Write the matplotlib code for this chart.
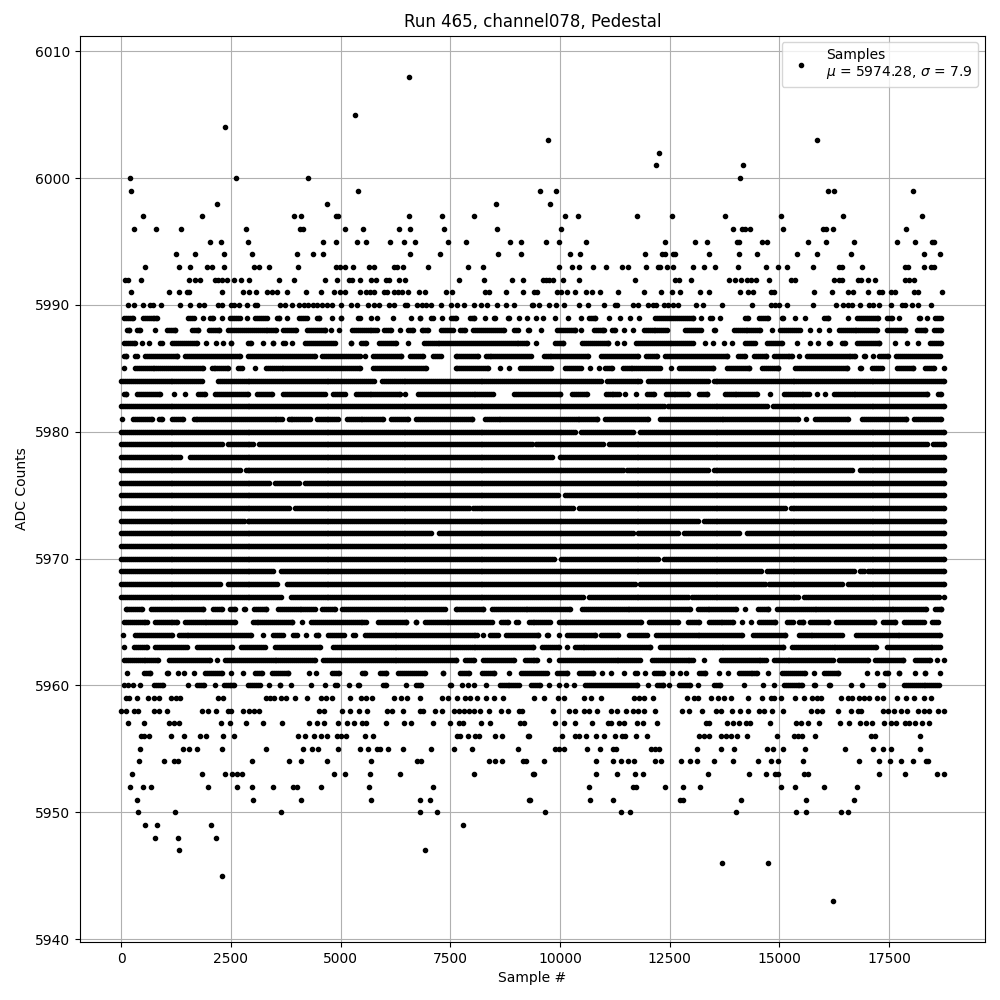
import numpy as np
import matplotlib
matplotlib.use("Agg")
import matplotlib.pyplot as plt

title = "Run 465, channel078, Pedestal"
x_label = "Sample #"
y_label = "ADC Counts"
legend_label = "Samples\n$\\mu$ = 5974.28, $\\sigma$ = 7.9"
first_sample = 0
last_sample = 18749
coverage_step = 45   # spacing used where a row is read as an unbroken run of samples
dot_allowance = 60   # runs were read from dot edge to dot edge; this is the dot radius in samples

# ---- isolated samples, read one by one: ADC level -> sample numbers
isolated = {
6008: [6560],
6005: [5336],
6004: [2357],
6003: [9720, 15850],
6002: [12250],
6001: [12181, 14165],
6000: [197, 2608, 4268, 14096],
5999: [220, 5405, 9536, 9901, 16100, 16240, 18035],
5998: [2175, 4700, 8543, 9764],
5997: [493, 1834, 3949, 4108, 4889, 4950, 6564, 7315, 8043, 10106, 10403, 11748, 12546, 13754, 15031, 16445, 18246],
5996: [288, 788, 1357, 2835, 4086, 4154, 5109, 5518, 6337, 6587, 7360, 8565, 10015, 13937, 14142, 14210, 14324, 15077, 15989, 16057, 16217, 17881],
5995: [2016, 2266, 2880, 4609, 4904, 5382, 5586, 6132, 6451, 6701, 7451, 7860, 8861, 9111, 9673, 9970, 10585, 12386, 13070, 13344, 14028, 14074, 14598, 14712, 15647, 16057, 16696, 17676, 18086, 18474, 18520],
5994: [1243, 1675, 2335, 2971, 4017, 4381, 4609, 6587, 7269, 8588, 9111, 10220, 10448, 11930, 12318, 12386, 12569, 12614, 13390, 14074, 14484, 15396, 15852, 16627, 18292, 18656],
5993: [538, 1311, 1561, 1948, 2062, 2335, 3017, 3153, 3381, 4040, 4904, 4995, 5109, 5291, 5655, 5768, 6223, 6291, 6428, 6996, 7906, 8247, 9970, 10266, 10426, 10745, 11041, 11406, 11543, 11953, 12227, 12272, 12432, 12569, 13025, 13276, 13526, 14051, 14689, 14963, 15168, 15761, 16354, 16422, 16878, 17858, 17927, 18292, 18451, 18520],
5992: [83, 152, 447, 1539, 1675, 1789, 2130, 2198, 2289, 2403, 2562, 2721, 2903, 3608, 3949, 4654, 4927, 5200, 5268, 5450, 5700, 5814, 6041, 6110, 6337, 6473, 7701, 8270, 8907, 9157, 9605, 9681, 9757, 9833, 10061, 10426, 11702, 12630, 12721, 12979, 13846, 13982, 14119, 14256, 14347, 14461, 14758, 15259, 15350, 16240, 16354, 16422, 16787, 16855, 17015, 17174, 17858, 17950, 18064],
5991: [220, 1084, 1311, 1493, 1554, 2289, 2767, 2903, 3062, 3335, 3449, 3563, 3790, 4222, 4563, 4859, 4995, 5109, 5450, 5586, 5677, 5768, 5996, 6064, 6223, 6314, 6405, 6542, 6792, 6928, 7406, 7542, 8293, 8383, 8770, 9157, 9415, 9483, 9939, 10030, 10152, 10334, 10585, 10722, 10904, 11315, 11908, 12295, 12546, 12728, 13184, 13390, 14096, 14279, 14393, 14803, 14872, 15784, 16194, 16559, 16673, 17015, 17266, 17334, 17539, 17630, 18064, 18155, 18702],
5990: [152, 288, 493, 667, 735, 902, 1334, 1561, 1766, 1880, 2198, 2289, 2494, 2562, 2676, 2858, 3040, 3085, 3631, 3745, 3904, 4063, 4177, 4268, 4381, 4472, 4586, 4700, 4813, 5010, 5245, 5382, 5632, 5768, 5882, 6110, 6223, 6473, 6519, 6746, 6860, 6951, 7065, 7292, 7519, 7656, 7815, 8043, 8202, 8338, 8573, 8770, 8952, 9361, 9392, 9529, 9757, 9909, 10099, 10426, 10631, 11000, 11246, 11292, 11657, 11771, 11999, 12113, 12189, 12364, 12455, 12569, 12683, 13101, 13253, 13686, 14370, 14803, 14894, 14986, 15168, 15776, 16285, 16445, 16559, 16650, 16832, 17038, 17129, 17266, 17539, 17790, 17858, 18018, 18155, 18451],
5959: [100, 180, 356, 606, 758, 872, 1137, 1251, 1342, 2198, 2312, 3297, 3388, 3487, 3638, 3752, 3964, 4245, 4548, 4662, 4813, 5215, 5458, 5571, 5723, 6216, 6367, 6519, 6815, 7315, 7451, 7656, 7830, 7959, 8111, 8315, 8497, 8694, 9400, 9643, 9947, 10099, 10555, 10707, 10935, 11695, 11809, 11923, 12128, 12888, 13063, 13139, 13443, 13595, 13747, 13899, 14279, 14598, 14811, 14887, 15039, 15366, 15571, 15746, 15852, 15951, 16407, 16559, 16658, 16825, 16939, 17038, 17228, 17357, 17676, 17889, 18071, 18307, 18459],
5958: [0, 114, 303, 379, 758, 872, 1038, 1834, 1971, 2160, 2426, 2502, 2767, 2918, 3032, 3146, 4510, 4624, 5040, 5207, 5420, 5610, 6064, 6178, 6427, 6815, 6868, 7163, 7315, 7580, 7694, 7807, 7921, 8035, 8187, 8391, 8660, 8827, 9058, 9134, 9848, 10198, 10350, 10555, 10669, 10844, 11163, 11292, 11505, 11657, 11771, 11923, 12158, 12782, 12949, 13238, 13557, 13671, 13914, 14104, 14279, 14530, 14659, 14834, 15092, 15723, 15852, 15974, 16331, 16627, 16787, 16863, 17357, 17471, 17623, 17775, 17904, 18155, 18307, 18421, 18611, 18748],
5957: [152, 515, 1099, 1213, 1311, 2266, 2479, 2835, 3244, 3676, 4290, 4472, 4631, 4950, 5154, 5313, 5495, 5586, 6041, 6450, 6610, 7110, 7497, 7694, 7792, 8209, 8414, 9096, 9172, 9878, 10084, 10350, 10730, 11087, 11163, 11338, 11467, 11748, 11885, 12204, 13329, 13405, 13800, 13937, 14074, 14241, 14332, 14780, 15381, 15495, 15647, 15898, 16376, 16582, 16848, 16977, 17106, 17395, 17547, 17661, 17866, 17965, 18094, 18254, 18406],
5956: [455, 530, 637, 1129, 1425, 1789, 1933, 2312, 2562, 4037, 4188, 4400, 4560, 4700, 4927, 5003, 5133, 5564, 5746, 7656, 7732, 7906, 8073, 8149, 8513, 8680, 9270, 9300, 10038, 10334, 10426, 10585, 10828, 11000, 11246, 11406, 11490, 11725, 11984, 13162, 13276, 13405, 13671, 13785, 13899, 14028, 14256, 14940, 15328, 15419, 15518, 15806, 17083, 17182, 18200],
5955: [425, 1402, 1539, 1721, 2289, 3312, 4154, 4359, 4495, 4950, 5450, 5632, 5837, 5890, 6087, 6428, 7065, 7588, 7997, 9043, 9894, 9985, 10099, 10608, 10904, 11201, 11277, 12075, 12174, 12250, 13116, 13663, 13960, 14712, 14849, 15077, 15586, 16490, 17129, 17357, 17547, 18200],
5954: [402, 970, 1213, 1289, 2971, 3835, 4108, 4700, 5700, 6746, 6837, 8383, 8527, 8679, 9157, 9225, 9628, 10813, 11201, 11391, 11543, 11680, 12158, 12295, 12751, 12956, 13116, 13504, 13937, 14507, 14811, 14963, 15533, 16810, 17266, 17516, 17767, 18041, 18345, 18390],
5953: [243, 1834, 2357, 2516, 2630, 2752, 4859, 5109, 5677, 6360, 8042, 9384, 9400, 10813, 11292, 11702, 11885, 13367, 14302, 14689, 14902, 14963, 15571, 15647, 17266, 17858, 18588, 18748],
5952: [197, 493, 675, 1971, 2630, 2971, 3472, 3926, 4017, 4563, 5655, 7110, 10654, 11657, 11733, 12386, 12797, 13184, 15031, 15350, 16012, 16764],
5951: [356, 2994, 4108, 5700, 6815, 7042, 9293, 9324, 10676, 11201, 12736, 12797, 14119, 15601, 16696],
5950: [379, 1220, 3654, 6815, 7201, 9650, 11383, 11588, 14005, 15373, 15601, 16399, 16559],
5949: [538, 811, 2039, 7792],
5948: [766, 1289, 2153],
5947: [1311, 6928],
5946: [13686, 14735],
5945: [2289],
5943: [16217],
}

# ---- broken rows, read as runs of samples: (first, last) or a lone sample
runs_5989 = [(0,340),(430,870),(1465,1720),(1820,1895),(1970,2160),(2260,2350),(2425,2765),(2805,2920),(2995,3375),(3490,3660),3790,(3995,4285),(4395,4570),(4740,4850),(4950,5080),(5345,5510),5685,5835,(6140,6240),(6555,6650),(6745,6875),(7000,7165),7315,(7465,7695),(7885,8110),8300,(8435,8575),(8755,8905),(9020,9095),9250,9453,9620,(9833,9947),10175,10480,(10593,10859),11125,11376,11604,11794,(12113,13101),13215,(13367,13519),13656,(14165,14355),(14469,14811),(15001,15153),15366,(15533,15647),(15951,16179),16559,(16711,17319),(17395,17623),17737,(18117,18254),18360,(18497,18748)]
runs_5988 = [(75,250),(305,480),780,(985,1290),(1555,1820),(1935,2300),(2375,3600),(3640,4045),(4170,4700),4775,4965,(5195,5880),(5940,6215),6365,(6480,6710),(6785,7050),(7240,7620),(7660,7885),(7960,8790),(8900,9095),(9210,9360),9567,(9870,10400),(10440,10517),(10707,11064),(11125,11315),11452,11657,(11847,12493),(12797,13276),(13443,13595),(13899,14621),14834,(14963,15533),15700,15898,(16065,16179),(16293,17280),(17395,17927),(18079,18383),(18459,18748)]
runs_5987 = [(0,380),470,630,(835,985),(1100,1780),1930,2160,2310,(2450,2575),(2840,3030),3235,(3390,3525),(3640,3790),3890,(4130,4925),(5175,5305),(5405,5645),(5810,6330),(6480,6595),(6835,9300),9450,(9833,10137),(10441,11163),11292,11467,(11672,13086),13306,13481,(13671,13785),13914,(14165,14507),(14659,15115),15396,(15647,15761),15875,(16065,16217),(16369,16559),(16711,17341),(17585,17699),(17851,17965),18155,(18383,18748)]
runs_5986 = [(0,175),(265,430),(490,1340),(1400,2765),(2840,4470),(4525,5495),5555,(5685,6440),(6530,6950),(7050,7340),(7560,8185),(8245,9390),(9567,10707),(10882,11832),(11908,12280),(12341,13861),(13990,14279),(14355,14750),(14811,15358),15457,(15571,16787),(16878,17015),17129,(17220,17532),(17600,18710)]
runs_5985 = [75,(250,1920),(2000,2500),(2600,2805),3045,(3235,5495),(5685,7010),(7560,8415),8640,8830,(9040,9848),(10061,10540),10692,10882,(10973,11254),(11368,12341),12523,(12660,13557),(13747,14370),(14545,15039),(15305,16597),(16787,16924),(17053,17395),(17623,18117),(18269,18588),18748]
runs_5983 = [(0,175),(300,945),(1175,1215),(1400,1510),(1690,1970),(2085,2955),(3030,3490),(3640,4700),(4775,5155),(5285,6405),6480,(6710,8530),(8900,10061),(10213,10676),(10980,11398),11490,11740,(11930,12211),(12348,12971),(13108,13412),(13693,14545),14788,(15040,15728),15853,16030,(16180,18420),(18550,18748)]
runs_5981 = [15,(205,760),(795,985),(1100,1480),(1590,3715),(3755,4360),(4395,4998),(5080,6025),(6100,6595),(6670,8060),(8225,10912),(10972,12060),(12227,15495),(15570,15647),(15760,16635),(16825,17943),(18005,18749)]
runs_5966 = [(40,530),(630,1930),(2030,2350),(2425,2650),(2730,2880),(2960,3370),(3510,4470),(4525,4925),(4980,7430),(7560,8315),(8390,10290),(10445,13025),(13078,14074),(14165,14285),(14454,14812),(14886,18405),(18480,18745)]
runs_5965 = [(0,645),(705,1330),(1390,2650),(2935,3965),4115,(4270,5645),(5800,6560),(6650,6790),(6860,8510),(8600,8870),(8930,9095),(9225,9833),(9909,11907),(11976,12759),(12850,13238),(13329,13997),(14089,14203),14355,(14484,14971),(15115,15365),(15396,15608),(15647,16179),(16232,17219),(17296,17699),(17775,18345),(18421,18665)]
runs_5964 = [(0,100),(265,1210),(1250,3030),(3185,3300),(3410,3750),(3865,4070),4210,(4375,4550),(4650,5130),(5230,5380),(5495,8160),8250,(8340,8640),(8720,9567),(9643,9795),9985,(10099,10859),(10874,11391),(11520,12037),(12130,14203),(14341,15190),(15380,16483),(16688,18730)]
runs_5963 = [60,(230,645),(720,1555),(1670,2580),(2675,3335),(3450,4585),(4775,9453),(9530,10045),10152,(10274,12113),(12227,15153),(15229,17258),(17395,18730)]
runs_5962 = [(0,910),(1040,2085),2185,(2310,4470),(4550,7695),(7770,8110),(8185,9020),(9135,9529),9742,(9924,11885),(12037,13101),13276,(13610,14758),(14811,16278),(16308,17091),(17129,17889),(18025,18497),18588,18748]
runs_5961 = [130,(455,720),(985,1135),1290,1440,(1595,1705),(1860,2350),2515,(2730,2845),(2995,3260),(3375,3865),4285,4450,(4740,5020),(5420,5610),(5830,6100),(6255,6975),(7280,7405),(7655,7995),(8165,8565),8845,(9060,9757),(9870,10228),(10380,10821),(10912,11011),11163,11452,(11657,11809),11938,(12075,12417),12554,12736,12873,(13101,13367),13618,13823,(14013,14545),14735,(15001,15647),15799,(15951,16407),16992,17220,(17357,17547),(17661,17797),18094,(18254,18383),18664]
runs_5960 = [75,150,280,430,(680,1025),1515,(1670,1950),2135,(2275,2630),(2840,3220),3380,(3560,3690),3865,4335,(4585,4700),(4815,4980),5190,(5345,5480),(5910,6100),(6445,6560),(6670,6900),(7430,7580),7770,7905,8040,8315,(8565,9135),(9290,9605),9757,9970,(10099,10198),10312,(10517,11809),11999,(12151,12417),12478,(12645,13025),13139,(13443,13709),14188,(14583,14682),14887,(15039,15571),(15723,15875),(16065,16217),16635,16878,(17239,17429),(17775,18687)]

# ---- nearly unbroken rows: only the blank stretches are listed
gaps_5984 = [(1870,2180),(5760,5910),(10960,11070),(11850,11980),(13400,13500)]
gaps_5982 = [(12380,12440),(14750,14830)]
gaps_5980 = [(10388,10456),(11695,11794)]
gaps_5979 = [(2327,2426),(3024,3123),(9380,9420),(10988,11087),(18383,18459)]
gaps_5978 = [(1364,1463),(1463,1539),(9848,9947)]
gaps_5977 = [(2729,2805),(11444,11520),(13382,13458),(16673,16787)]
gaps_5976 = [(3411,3487),(4070,4146)]
gaps_5975 = [(9947,10114)]
gaps_5974 = [(3851,3926),(7921,7997),(10342,10418),(15138,15214)]
gaps_5973 = [(2805,2865),(13162,13238)]
gaps_5972 = [(7088,7201),(11695,11771),(12721,12797),(14104,14256)]
gaps_5971 = []
gaps_5970 = [(9894,10000),(12265,12364)]
gaps_5969 = [(3502,3623),(14606,14682),(16734,16825),(16924,16992)]
gaps_5968 = [(2251,2388),(3578,3752),(11733,11824),(14682,14758),(16460,16536)]
gaps_5967 = [(3661,3828),(4321,4359),(10555,10631),(12918,12994),(15472,15556),(18634,18732)]

run_rows = {5989: runs_5989, 5988: runs_5988, 5987: runs_5987, 5986: runs_5986,
            5985: runs_5985, 5983: runs_5983, 5981: runs_5981, 5966: runs_5966,
            5965: runs_5965, 5964: runs_5964, 5963: runs_5963, 5962: runs_5962,
            5961: runs_5961, 5960: runs_5960}
gap_rows = {5984: gaps_5984, 5982: gaps_5982, 5980: gaps_5980, 5979: gaps_5979,
            5978: gaps_5978, 5977: gaps_5977, 5976: gaps_5976, 5975: gaps_5975,
            5974: gaps_5974, 5973: gaps_5973, 5972: gaps_5972, 5971: gaps_5971,
            5970: gaps_5970, 5969: gaps_5969, 5968: gaps_5968, 5967: gaps_5967}


def from_runs(runs):
    out = []
    for r in runs:
        if isinstance(r, tuple):
            a = r[0] + dot_allowance
            b = r[1] - dot_allowance
            if b <= a:
                out.append(np.array([(r[0] + r[1]) // 2]))
            else:
                out.append(np.arange(a, b, coverage_step))
                out.append(np.array([b]))
        else:
            out.append(np.array([r]))
    return np.concatenate(out)


def from_gaps(gaps):
    s = np.arange(first_sample, last_sample + 1, coverage_step)
    s = np.append(s, last_sample)
    for a, b in gaps:
        s = s[(s <= a) | (s >= b)]
    return s


xs, ys = [], []
for level, samples in isolated.items():
    xs.append(np.array(samples)); ys.append(np.full(len(samples), level))
for level, runs in run_rows.items():
    s = from_runs(runs); xs.append(s); ys.append(np.full(len(s), level))
for level, gaps in gap_rows.items():
    s = from_gaps(gaps); xs.append(s); ys.append(np.full(len(s), level))
x = np.concatenate(xs)
y = np.concatenate(ys)

fig, ax = plt.subplots(figsize=(10, 10), dpi=100)
ax.plot(x, y, "k.", label=legend_label)
ax.set_title(title)
ax.set_xlabel(x_label)
ax.set_ylabel(y_label)
ax.ticklabel_format(useOffset=False, style="plain", axis="y")
ax.grid(True)
ax.legend(loc="upper right")
fig.subplots_adjust(left=0.0800, right=0.9850, top=0.9645, bottom=0.0578)
fig.savefig("out.png", dpi=100)
